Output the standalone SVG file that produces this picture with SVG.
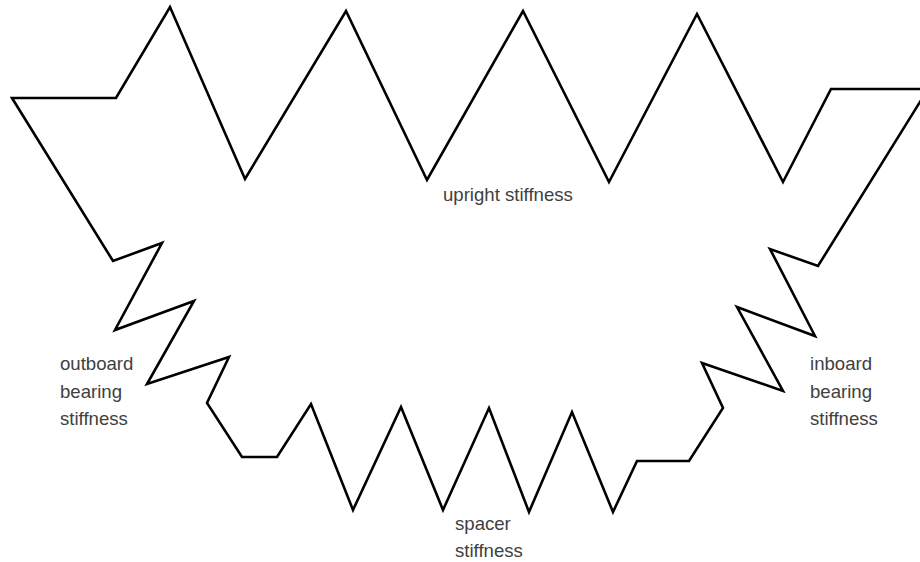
<svg xmlns="http://www.w3.org/2000/svg" width="920" height="562" viewBox="0 0 920 562">
<style>
.shape{fill:none;stroke:#000;stroke-width:2.6;stroke-linejoin:miter;stroke-miterlimit:10}
.lbl{font-family:"Liberation Sans",Arial,sans-serif;font-size:18.6px;fill:#404040}
</style>
<rect width="920" height="562" fill="#fff"/>
<path class="shape" d="M12,98 L116,98 L170,7 L245,179 L346,11 L427,180 L523,11 L609,182 L697,14 L783,182 L831,89 L928,89 L818,266 L770,249 L815,336 L737,307 L783,391 L702,363 L723,408 L689,461 L637,461 L613,512 L572,412 L529,512 L489,408 L443,510 L401,407 L353,510 L311,404 L277,457 L242,457 L207,403 L229,357 L147,384 L194,301 L115,330 L162,243 L113,261 Z"/>
<text class="lbl" x="443" y="201">upright stiffness</text>
<text class="lbl" x="60" y="370">outboard</text>
<text class="lbl" x="60" y="398">bearing</text>
<text class="lbl" x="60" y="425">stiffness</text>
<text class="lbl" x="810" y="370">inboard</text>
<text class="lbl" x="810" y="398">bearing</text>
<text class="lbl" x="810" y="425">stiffness</text>
<text class="lbl" x="455" y="530">spacer</text>
<text class="lbl" x="455" y="557">stiffness</text>
</svg>
